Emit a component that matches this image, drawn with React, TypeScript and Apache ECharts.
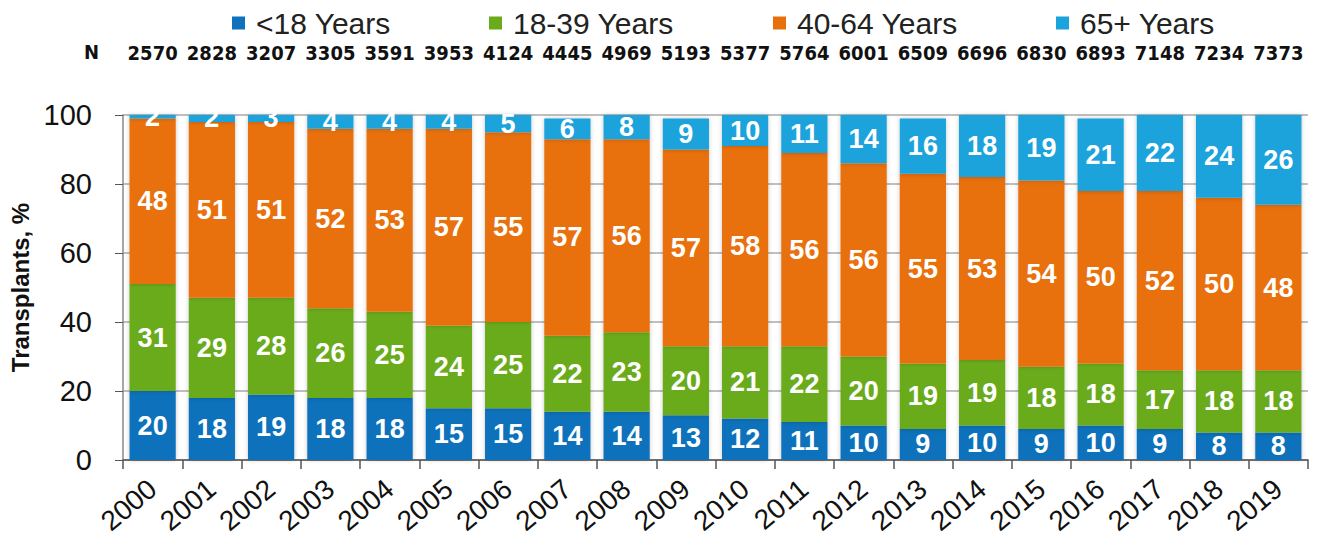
import React, { useEffect, useRef } from "react";
import * as echarts from "echarts";

const years = ["2000","2001","2002","2003","2004","2005","2006","2007","2008","2009","2010","2011","2012","2013","2014","2015","2016","2017","2018","2019"];
const nValues = ["2570","2828","3207","3305","3591","3953","4124","4445","4969","5193","5377","5764","6001","6509","6696","6830","6893","7148","7234","7373"];
const under18 = [20,18,19,18,18,15,15,14,14,13,12,11,10,9,10,9,10,9,8,8];
const age18to39 = [31,29,28,26,25,24,25,22,23,20,21,22,20,19,19,18,18,17,18,18];
const age40to64 = [48,51,51,52,53,57,55,57,56,57,58,56,56,55,53,54,50,52,50,48];
const age65plus = [2,2,3,4,4,4,5,6,8,9,10,11,14,16,18,19,21,22,24,26];
const seriesNames = ["<18 Years","18-39 Years","40-64 Years","65+ Years"];
const colors = ["#0f71bb","#6aab1c","#e8700b","#1aa3dc"];
const yTicks = [0, 20, 40, 60, 80, 100];
const legendLefts = [224, 481, 765, 1048];

export default function App() {
  const ref = useRef<HTMLDivElement>(null);
  useEffect(() => {
    const chart = echarts.init(ref.current!, null, { renderer: "svg" });
    const datasets = [under18, age18to39, age40to64, age65plus];
    const narrow = "'DejaVu Sans Condensed', 'Liberation Sans Narrow', 'Liberation Sans', Arial";
    chart.setOption({
      animation: false,
      textStyle: { fontFamily: "Liberation Sans, Arial, sans-serif" },
      color: colors,
      legend: seriesNames.map((name, i) => ({
        top: 0,
        left: legendLefts[i],
        padding: 0,
        itemWidth: 13,
        itemHeight: 13,
        icon: "rect",
        textStyle: { fontSize: 30, color: "#222", padding: [0, 0, 0, 6] },
        data: [name],
      })),
      grid: { left: 115, right: 16, top: 107, bottom: 79, containLabel: false, outerBoundsMode: "none" },
      graphic: [
        {
          type: "text",
          left: 76,
          top: 34,
          style: { text: "N", font: "bold 20px " + narrow, fill: "#111" },
        },
      ],
      xAxis: [
        {
          type: "category",
          data: years,
          axisLine: { lineStyle: { color: "#555", width: 1.5 } },
          axisTick: { show: true, length: 9, lineStyle: { color: "#555", width: 1.5 } },
          axisLabel: { rotate: 40, fontSize: 28, color: "#111", margin: 25 },
        },
        {
          type: "category",
          data: nValues,
          position: "top",
          axisLine: { show: false },
          axisTick: { show: false },
          axisLabel: {
            interval: 0,
            fontSize: 20,
            fontWeight: "bold",
            color: "#111",
            margin: 52,
            fontFamily: narrow,
          },
        },
      ],
      yAxis: {
        type: "value",
        min: 0,
        max: 100,
        interval: 20,
        name: "Transplants, %",
        nameLocation: "middle",
        nameGap: 86,
        nameTextStyle: { fontSize: 24, fontWeight: "bold", color: "#111" },
        axisLine: { show: true, lineStyle: { color: "#888", width: 1.5 } },
        axisTick: { show: true, length: 8, lineStyle: { color: "#555" } },
        axisLabel: {
          fontSize: 29,
          color: "#111",
          margin: 31,
          formatter: (v: number) => (yTicks.includes(v) ? String(v) : ""),
        },
        splitLine: { show: true, lineStyle: { color: "#aaa", width: 1.5 } },
      },
      series: datasets.map((d, i) => ({
        name: seriesNames[i],
        type: "bar",
        stack: "total",
        xAxisIndex: 0,
        barWidth: "78%",
        data: d,
        itemStyle: { color: colors[i], shadowColor: "rgba(0,0,0,0.22)", shadowBlur: 4 },
        label: {
          show: true,
          position: "inside",
          color: "#fff",
          fontSize: 27,
          fontWeight: "bold",
        },
      })),
    });
    return () => chart.dispose();
  }, []);
  return <div ref={ref} style={{ width: 1316, height: 531 }} />;
}
